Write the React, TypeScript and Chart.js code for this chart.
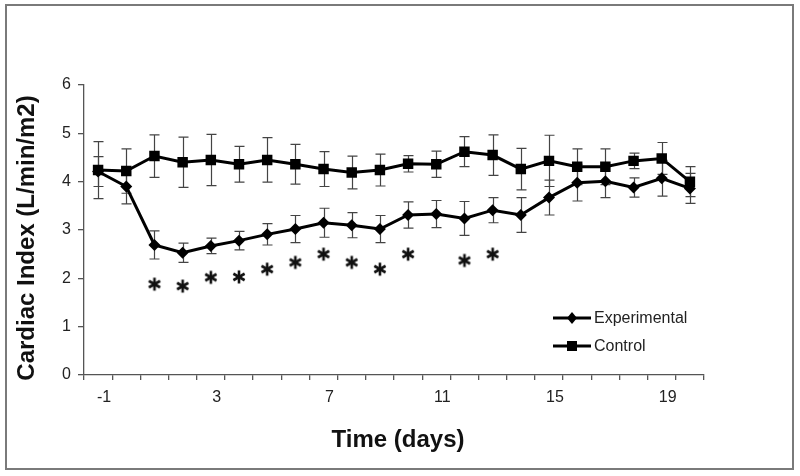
import React, { useEffect, useRef } from 'react';
import { Chart, registerables } from 'chart.js';

Chart.register(...registerables);

const days = ['-1', '0', '1', '2', '3', '4', '5', '6', '7', '8', '9', '10', '11', '12', '13', '14', '15', '16', '17', '18', '19', '20'];

const experimental = [4.21, 3.9, 2.69, 2.53, 2.67, 2.78, 2.91, 3.02, 3.15, 3.1, 3.02, 3.31, 3.33, 3.24, 3.41, 3.31, 3.67, 3.98, 4.01, 3.88, 4.07, 3.86];
const experimentalErr = [0.31, 0.36, 0.29, 0.2, 0.16, 0.19, 0.22, 0.28, 0.3, 0.26, 0.28, 0.27, 0.28, 0.35, 0.26, 0.36, 0.36, 0.38, 0.34, 0.2, 0.37, 0.31];

const control = [4.24, 4.22, 4.53, 4.4, 4.45, 4.36, 4.45, 4.36, 4.26, 4.19, 4.24, 4.37, 4.36, 4.62, 4.55, 4.26, 4.43, 4.31, 4.31, 4.43, 4.48, 4.0];
const controlErr = [0.59, 0.46, 0.44, 0.52, 0.53, 0.37, 0.46, 0.41, 0.36, 0.34, 0.33, 0.17, 0.27, 0.31, 0.42, 0.43, 0.53, 0.37, 0.37, 0.16, 0.33, 0.31];

// vertical level (in axis units) of the significance asterisks
const asteriskLevel = [null, null, 1.88, 1.84, 2.02, 2.03, 2.19, 2.33, 2.5, 2.33, 2.19, 2.5, null, 2.37, 2.5, null, null, null, null, null, null, null];

const yTicks = [0, 1, 2, 3, 4, 5, 6];

const FONT = 'Arial, "Liberation Sans", sans-serif';

function makeAsterisk(): HTMLCanvasElement {
  const c = document.createElement('canvas');
  c.width = 18;
  c.height = 18;
  const ctx = c.getContext('2d')!;
  ctx.strokeStyle = '#111';
  ctx.lineWidth = 2.6;
  ctx.lineCap = 'butt';
  const r = 6.5;
  for (const a of [90, 30, 150]) {
    const rad = (a * Math.PI) / 180;
    ctx.beginPath();
    ctx.moveTo(9 - Math.cos(rad) * r, 9 - Math.sin(rad) * r);
    ctx.lineTo(9 + Math.cos(rad) * r, 9 + Math.sin(rad) * r);
    ctx.stroke();
  }
  return c;
}

const errorBarPlugin = {
  id: 'errorBars',
  beforeDatasetsDraw(chart: any) {
    const ctx = chart.ctx;
    const y = chart.scales.y;
    const sets = [
      { idx: 0, vals: control, errs: controlErr },
      { idx: 1, vals: experimental, errs: experimentalErr },
    ];
    ctx.save();
    ctx.strokeStyle = '#444';
    ctx.lineWidth = 1.2;
    for (const s of sets) {
      const meta = chart.getDatasetMeta(s.idx);
      meta.data.forEach((pt: any, i: number) => {
        const x = Math.round(pt.x) + 0.5;
        const top = y.getPixelForValue(s.vals[i] + s.errs[i]);
        const bot = y.getPixelForValue(s.vals[i] - s.errs[i]);
        ctx.beginPath();
        ctx.moveTo(x, top);
        ctx.lineTo(x, bot);
        ctx.moveTo(x - 5, top);
        ctx.lineTo(x + 5, top);
        ctx.moveTo(x - 5, bot);
        ctx.lineTo(x + 5, bot);
        ctx.stroke();
      });
    }
    ctx.restore();
  },
};

const decorPlugin = {
  id: 'decor',
  afterDraw(chart: any) {
    const ctx = chart.ctx;
    ctx.save();
    // outer border
    ctx.strokeStyle = '#7a7a7a';
    ctx.lineWidth = 2;
    ctx.strokeRect(6, 5, 787, 464);

    // axis titles
    ctx.fillStyle = '#111';
    ctx.font = `bold 24px ${FONT}`;
    ctx.textAlign = 'center';
    ctx.textBaseline = 'middle';
    const area = chart.chartArea;
    ctx.fillText('Time (days)', (area.left + area.right) / 2 + 4, 440);
    ctx.save();
    ctx.translate(27, (area.top + area.bottom) / 2 + 8);
    ctx.rotate(-Math.PI / 2);
    ctx.fillText('Cardiac Index (L/min/m2)', 0, 0);
    ctx.restore();

    // legend
    const items = [
      { label: chart.data.datasets[1].label, style: 'diamond', y: 318 },
      { label: chart.data.datasets[0].label, style: 'square', y: 346 },
    ];
    ctx.font = `16px ${FONT}`;
    ctx.textAlign = 'left';
    for (const it of items) {
      ctx.strokeStyle = '#000';
      ctx.lineWidth = 3;
      ctx.beginPath();
      ctx.moveTo(553, it.y);
      ctx.lineTo(591, it.y);
      ctx.stroke();
      ctx.fillStyle = '#000';
      ctx.beginPath();
      if (it.style === 'diamond') {
        ctx.moveTo(572, it.y - 6);
        ctx.lineTo(577, it.y);
        ctx.lineTo(572, it.y + 6);
        ctx.lineTo(567, it.y);
        ctx.closePath();
      } else {
        ctx.rect(567, it.y - 5, 10, 10);
      }
      ctx.fill();
      ctx.fillStyle = '#222';
      ctx.fillText(it.label, 594, it.y + 1);
    }
    ctx.restore();
  },
};

export default function App() {
  const ref = useRef<HTMLCanvasElement | null>(null);

  useEffect(() => {
    if (!ref.current) return;
    const asterisk = makeAsterisk();
    const chart = new Chart(ref.current, {
      type: 'line',
      data: {
        labels: days,
        datasets: [
          {
            label: 'Control',
            data: control,
            borderColor: '#000',
            backgroundColor: '#000',
            borderWidth: 3,
            pointStyle: 'rect',
            pointRadius: 7.4,
            pointBorderWidth: 0,
            tension: 0,
          },
          {
            label: 'Experimental',
            data: experimental,
            borderColor: '#000',
            backgroundColor: '#000',
            borderWidth: 3,
            pointStyle: 'rectRot',
            pointRadius: 6,
            pointBorderWidth: 0,
            tension: 0,
          },
          {
            label: 'sig',
            data: asteriskLevel as any,
            showLine: false,
            pointStyle: asterisk as any,
            pointRadius: 9,
          },
        ],
      },
      options: {
        responsive: false,
        animation: false,
        layout: { padding: { left: 0, top: 85, right: 96, bottom: 0 } },
        plugins: { legend: { display: false }, tooltip: { enabled: false } },
        scales: {
          x: {
            type: 'category',
            offset: true,
            grid: { offset: true, drawOnChartArea: false, tickLength: 5, color: '#555', lineWidth: 1.3 },
            border: { color: '#555', width: 1.3 },
            ticks: {
              autoSkip: false,
              maxRotation: 0,
              callback: (_v: any, i: number) => (i % 4 === 0 ? days[i] : ''),
              font: { family: FONT, size: 16 },
              color: '#222',
              labelOffset: 6,
              padding: 8,
            },
            afterFit: (s: any) => {
              s.height = 101;
            },
          },
          y: {
            min: 0,
            max: 6,
            afterBuildTicks: (s: any) => {
              s.ticks = yTicks.map((v) => ({ value: v }));
            },
            ticks: { font: { family: FONT, size: 16 }, color: '#222', padding: 7 },
            grid: { drawOnChartArea: false, tickLength: 6, color: '#555', lineWidth: 1.3 },
            border: { color: '#555', width: 1.3 },
            afterFit: (s: any) => {
              s.width = 84;
            },
          },
        },
      },
      plugins: [errorBarPlugin, decorPlugin],
    });
    return () => chart.destroy();
  }, []);

  return (
    <div style={{ position: 'fixed', left: 0, top: 0, width: 800, height: 476, background: '#fff' }}>
      <canvas ref={ref} width={800} height={476} style={{ width: 800, height: 476 }} />
    </div>
  );
}
